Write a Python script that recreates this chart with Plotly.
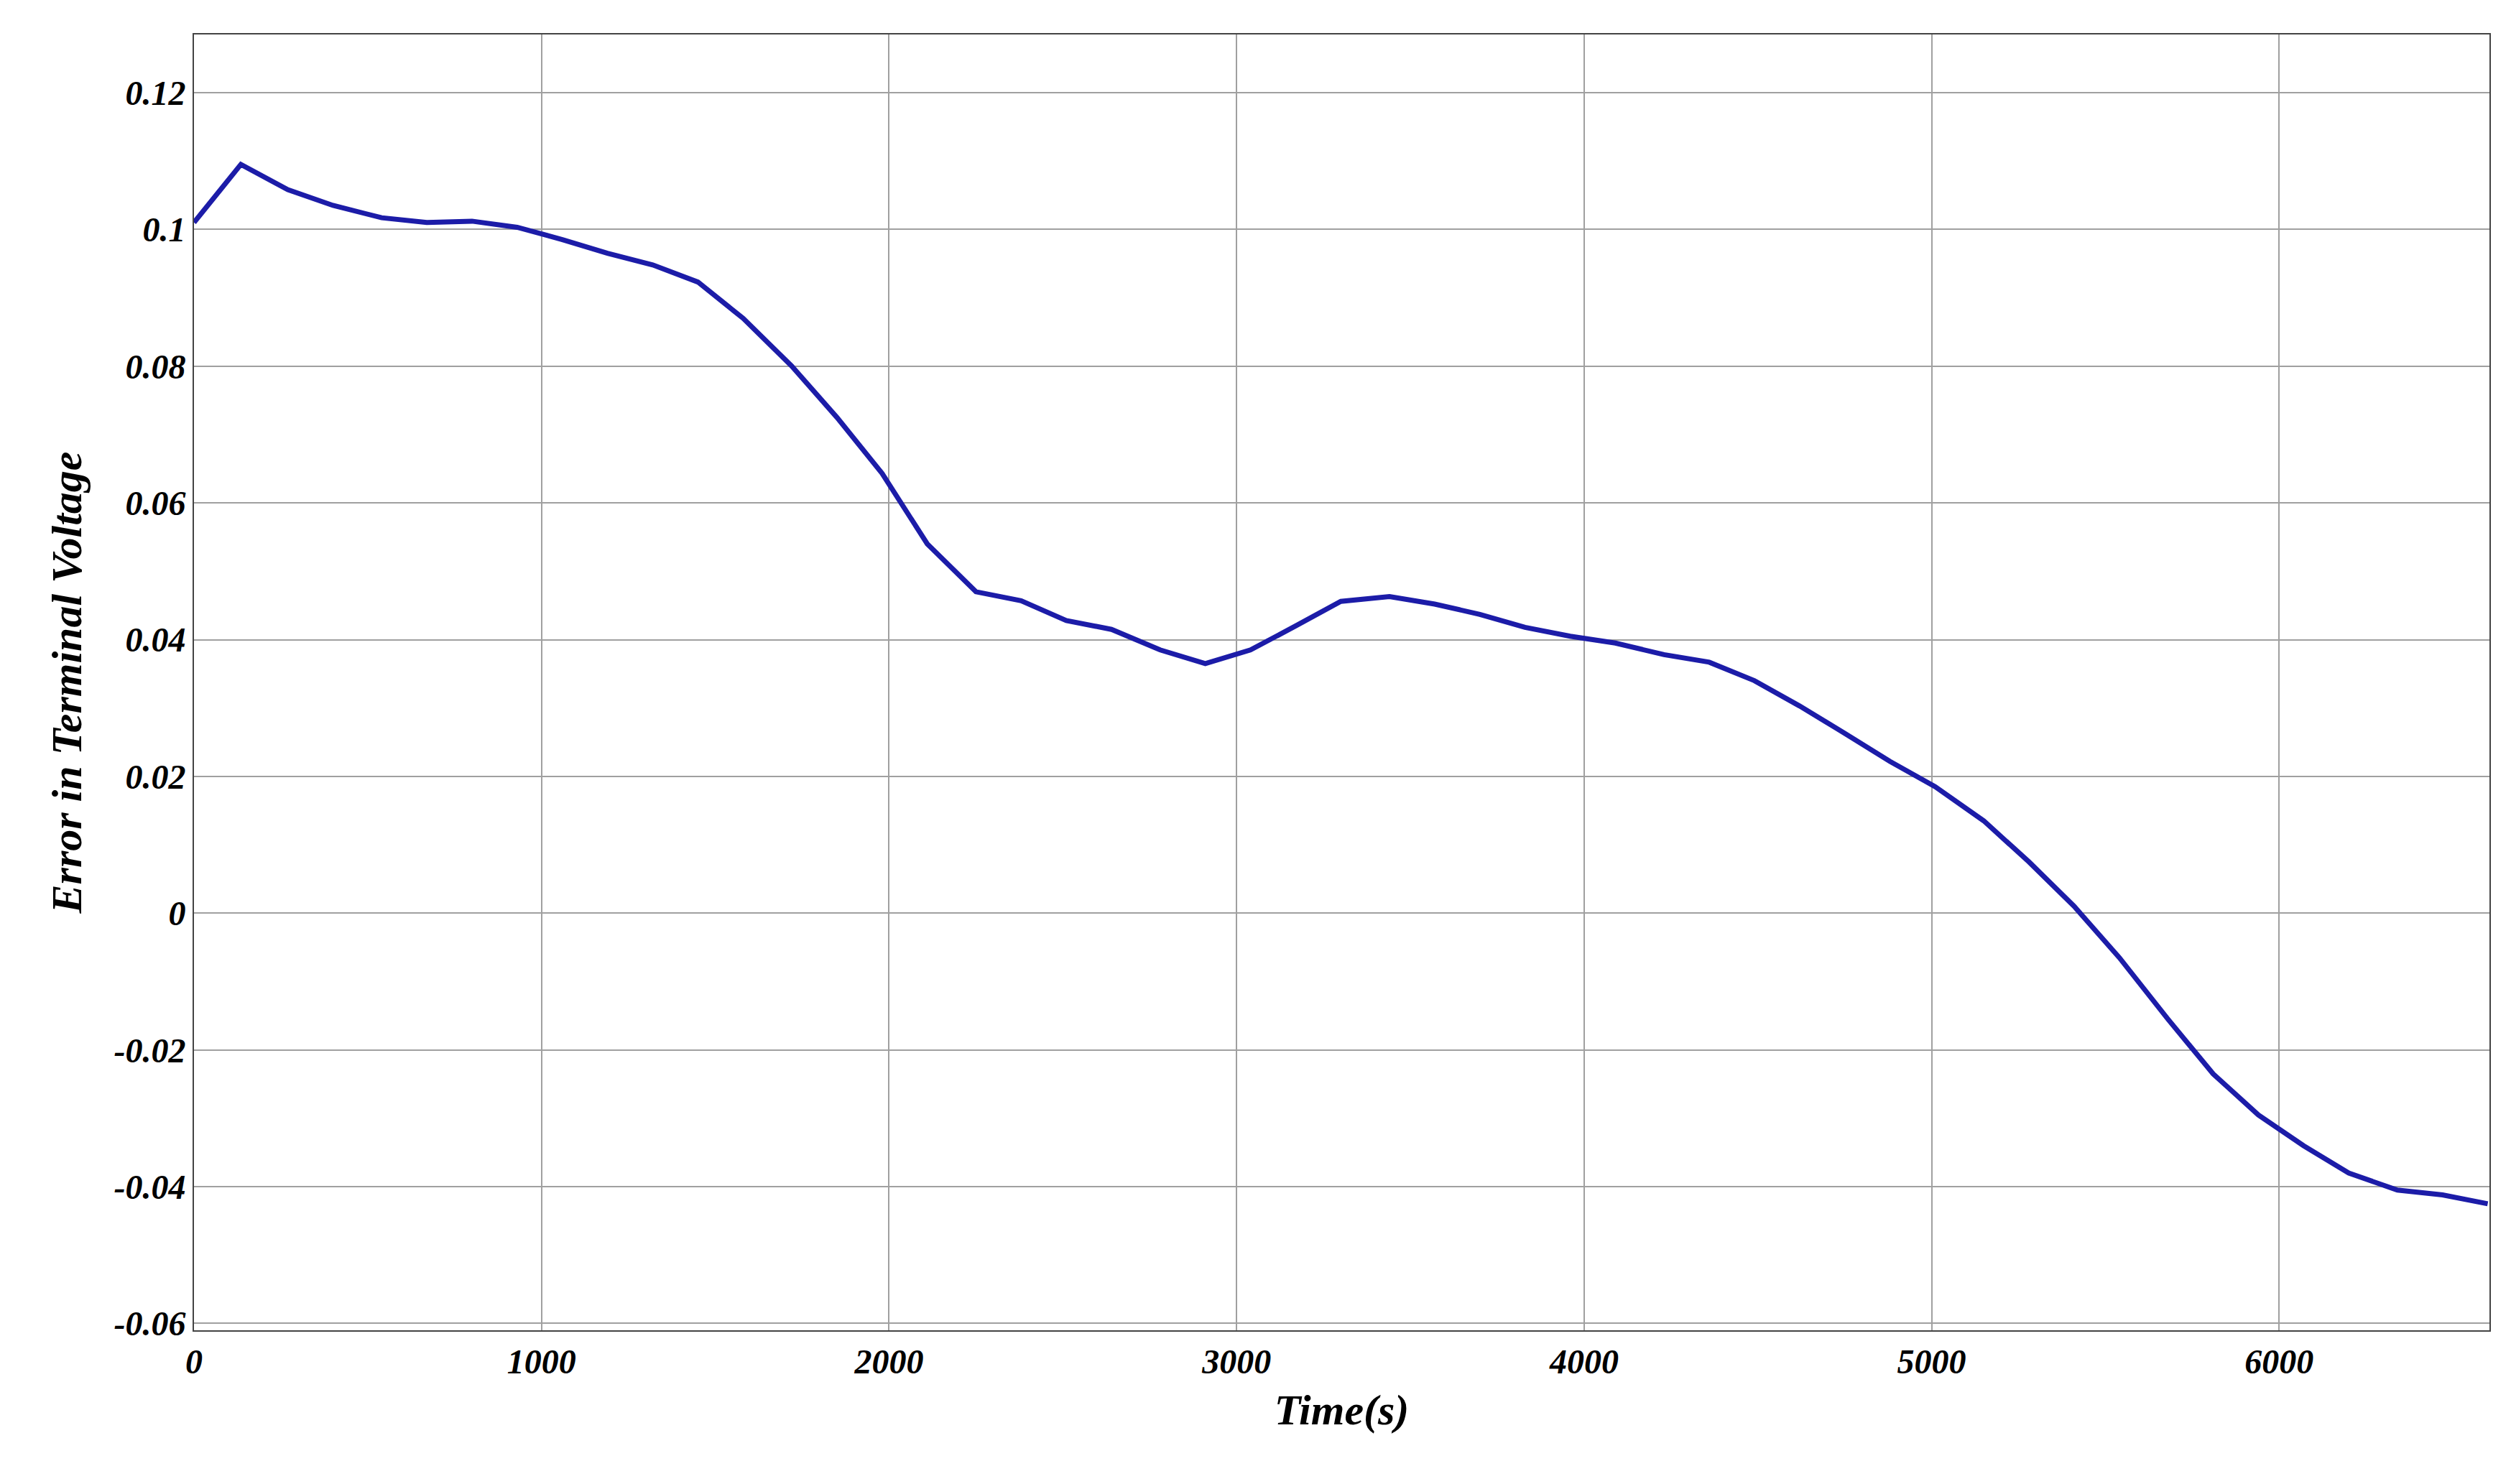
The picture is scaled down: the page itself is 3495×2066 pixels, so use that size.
import plotly.graph_objects as go

time_s = [0,135,270,400,540,670,800,930,1060,1190,1320,1450,1580,1720,1850,1980,2110,2250,2380,2510,2640,2780,2910,3040,3170,3300,3440,3570,3700,3830,3960,4090,4230,4360,4490,4620,4750,4880,5010,5150,5280,5410,5540,5680,5810,5940,6070,6200,6340,6470,6600]
error_v = [0.101,0.1095,0.1058,0.1035,0.1017,0.101,0.1012,0.1003,0.0985,0.0965,0.0948,0.0923,0.087,0.08,0.0725,0.0643,0.054,0.047,0.0457,0.0428,0.0415,0.0385,0.0365,0.0385,0.042,0.0456,0.0463,0.0452,0.0437,0.0418,0.0405,0.0395,0.0378,0.0367,0.034,0.0303,0.0263,0.0222,0.0185,0.0135,0.0075,0.001,-0.0065,-0.0155,-0.0235,-0.0295,-0.034,-0.038,-0.0405,-0.0412,-0.0425]
x_ticks = [0,1000,2000,3000,4000,5000,6000]
y_ticks = [-0.06,-0.04,-0.02,0,0.02,0.04,0.06,0.08,0.1,0.12]
y_labels = ["-0.06","-0.04","-0.02","0","0.02","0.04","0.06","0.08","0.1","0.12"]

font = dict(family="Liberation Serif", color="black")
fig = go.Figure(go.Scatter(x=time_s, y=error_v, mode="lines",
                           line=dict(color="#1c1ca8", width=7)))
axis_common = dict(showgrid=True, gridcolor="#a0a0a0", gridwidth=2, zeroline=False,
                   showline=True, linecolor="#444", linewidth=2, mirror=True, ticks="",
                   tickfont=dict(size=48, **font))
fig.update_layout(
    width=3495, height=2066, paper_bgcolor="white", plot_bgcolor="white",
    margin=dict(l=262, r=38, t=40, b=222), showlegend=False,
    xaxis=dict(range=[0,6605], tickvals=x_ticks, ticktext=[f"<b><i>{v}</i></b>" for v in x_ticks],
               title=dict(text="<b><i>Time(s)</i></b>", font=dict(size=60, **font), standoff=20),
               **axis_common),
    yaxis=dict(range=[-0.061,0.1285], tickvals=y_ticks, ticktext=[f"<b><i>{t}</i></b>" for t in y_labels],
               title=dict(text="<b><i>Error in Terminal Voltage</i></b>", font=dict(size=60, **font), standoff=25),
               **axis_common),
)
fig.write_html("out.html")
